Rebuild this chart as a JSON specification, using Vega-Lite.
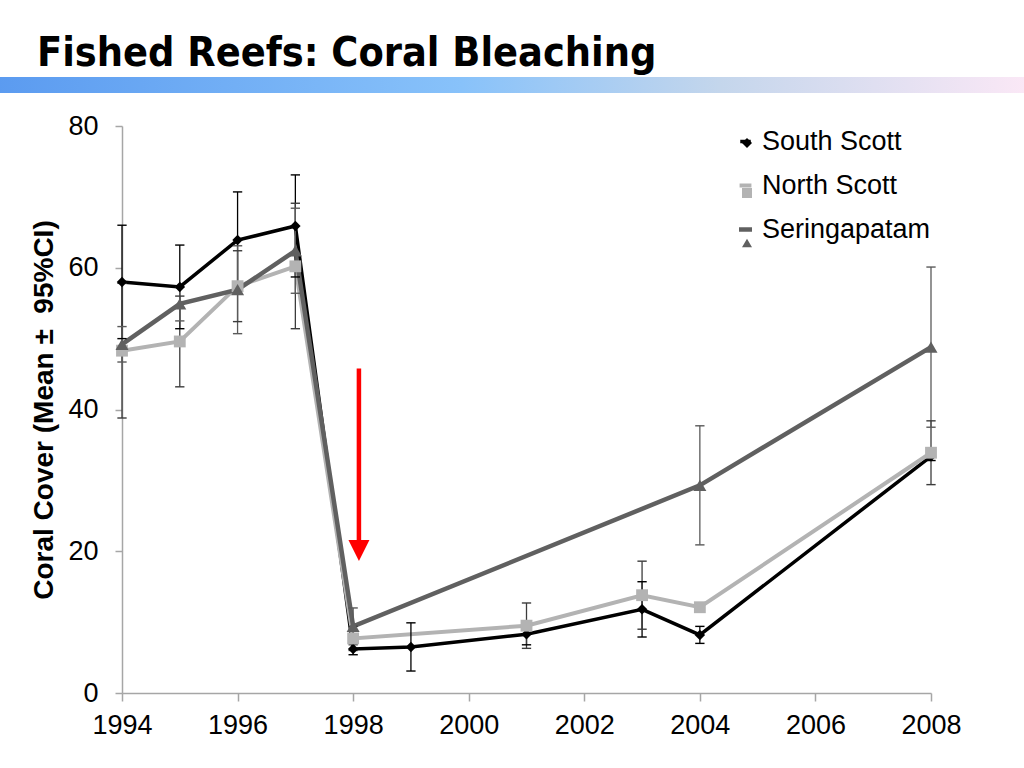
{
  "$schema": "https://vega.github.io/schema/vega-lite/v6.json",
  "width": 809,
  "height": 567,
  "autosize": {"type": "none"},
  "padding": {"left": 122, "top": 126, "right": 93, "bottom": 75},
  "background": "white",
  "config": {"view": {"stroke": null}, "font": "Liberation Sans"},
  "title": {
    "text": "Fished Reefs: Coral Bleaching",
    "anchor": "start",
    "frame": "group",
    "font": "Liberation Sans Narrow, DejaVu Sans Condensed, Lato",
    "fontWeight": "bold",
    "fontSize": 41,
    "color": "#000000",
    "baseline": "alphabetic",
    "dx": -85,
    "dy": 42,
    "offset": 12
  },
  "datasets": {
    "reefs": [
      {"series": "South Scott", "year": 1994, "mean": 58.0, "lo": 50.0, "hi": 66.0},
      {"series": "South Scott", "year": 1995, "mean": 57.3, "lo": 51.4, "hi": 63.2},
      {"series": "South Scott", "year": 1996, "mean": 63.9, "lo": 57.1, "hi": 70.7},
      {"series": "South Scott", "year": 1997, "mean": 65.9, "lo": 58.7, "hi": 73.1},
      {"series": "South Scott", "year": 1998, "mean": 6.2, "lo": 5.4, "hi": 7.0},
      {"series": "South Scott", "year": 1999, "mean": 6.5, "lo": 3.1, "hi": 9.9},
      {"series": "South Scott", "year": 2001, "mean": 8.3, "lo": 6.8, "hi": 9.8},
      {"series": "South Scott", "year": 2003, "mean": 11.8, "lo": 7.9, "hi": 15.7},
      {"series": "South Scott", "year": 2004, "mean": 8.2, "lo": 7.0, "hi": 9.4},
      {"series": "South Scott", "year": 2008, "mean": 33.4, "lo": 32.8, "hi": 34.0},
      {"series": "North Scott", "year": 1994, "mean": 48.3, "lo": 38.8, "hi": 57.8},
      {"series": "North Scott", "year": 1995, "mean": 49.6, "lo": 43.2, "hi": 56.0},
      {"series": "North Scott", "year": 1996, "mean": 57.4, "lo": 52.4, "hi": 62.4},
      {"series": "North Scott", "year": 1997, "mean": 60.2, "lo": 51.4, "hi": 69.1},
      {"series": "North Scott", "year": 1998, "mean": 7.7, "lo": 6.0, "hi": 9.4},
      {"series": "North Scott", "year": 2001, "mean": 9.5, "lo": 6.3, "hi": 12.7},
      {"series": "North Scott", "year": 2003, "mean": 13.8, "lo": 9.0, "hi": 18.6},
      {"series": "North Scott", "year": 2004, "mean": 12.1, "lo": 11.5, "hi": 12.7},
      {"series": "North Scott", "year": 2008, "mean": 33.9, "lo": 29.4, "hi": 38.4},
      {"series": "Seringapatam", "year": 1994, "mean": 49.2, "lo": 46.7, "hi": 51.7},
      {"series": "Seringapatam", "year": 1995, "mean": 54.9, "lo": 52.5, "hi": 57.3},
      {"series": "Seringapatam", "year": 1996, "mean": 56.9, "lo": 50.7, "hi": 63.1},
      {"series": "Seringapatam", "year": 1997, "mean": 62.4, "lo": 56.4, "hi": 68.4},
      {"series": "Seringapatam", "year": 1998, "mean": 9.4, "lo": 6.8, "hi": 12.0},
      {"series": "Seringapatam", "year": 2004, "mean": 29.3, "lo": 20.9, "hi": 37.7},
      {"series": "Seringapatam", "year": 2008, "mean": 48.8, "lo": 37.5, "hi": 60.1}
    ],
    "arrow": [{"year": 1998.1, "top": 45.8, "base": 21.6, "head": 20.1}],
    "band": [{"x0": 1991.85, "x1": 2009.7, "y0": 84.66, "y1": 86.9}]
  },
  "layer": [
    {
      "data": {"name": "reefs"},
      "mark": {"type": "line"},
      "encoding": {
        "x": {
          "field": "year", "type": "quantitative",
          "scale": {"domain": [1994, 2008], "nice": false, "zero": false},
          "axis": {
            "title": null, "values": [1994, 1996, 1998, 2000, 2002, 2004, 2006, 2008],
            "format": "d", "grid": false, "domainColor": "#a6a6a6", "domainWidth": 1.5,
            "tickColor": "#a6a6a6", "tickWidth": 1.5, "tickSize": 8, "labelFlush": false, "labelOverlap": false,
            "labelFont": "Liberation Sans", "labelFontSize": 27, "labelColor": "#000000", "labelPadding": 11
          }
        },
        "y": {
          "field": "mean", "type": "quantitative",
          "scale": {"domain": [0, 80], "nice": false},
          "axis": {
            "title": "Coral Cover (Mean ±\u00a0 95%CI)", "values": [0, 20, 40, 60, 80],
            "grid": false, "domainColor": "#a6a6a6", "domainWidth": 1.5,
            "tickColor": "#a6a6a6", "tickWidth": 1.5, "tickSize": 7, "labelFlush": false, "labelOverlap": false,
            "labelFont": "Liberation Sans", "labelFontSize": 27, "labelColor": "#000000", "labelPadding": 17,
            "titleFont": "Liberation Sans", "titleFontSize": 28, "titleFontWeight": "bold", "titleColor": "#000000", "titlePadding": 9
          }
        },
        "color": {
          "field": "series", "type": "nominal",
          "scale": {"domain": ["South Scott", "North Scott", "Seringapatam"], "range": ["#000000", "#b3b3b3", "#606060"]},
          "legend": {
            "orient": "none", "legendX": 610, "legendY": 2, "title": null, "padding": 0,
            "labelFont": "Liberation Sans", "labelFontSize": 27, "labelColor": "#000000", "labelLimit": 400,
            "symbolType": "stroke", "symbolSize": 784, "symbolStrokeWidth": 3.5, "rowPadding": 16, "labelOffset": 3
          }
        },
        "strokeWidth": {"field": "series", "type": "nominal", "scale": {"domain": ["South Scott", "North Scott", "Seringapatam"], "range": [3.5, 4.5, 3.5]}, "legend": null}
      }
    },
    {
      "data": {"name": "band"},
      "mark": {
        "type": "rect",
        "clip": false,
        "fill": {
          "gradient": "linear",
          "x1": 0, "x2": 1, "y1": 0, "y2": 0,
          "stops": [
            {"offset": 0, "color": "#5b9bf0"},
            {"offset": 0.45, "color": "#88c2fa"},
            {"offset": 0.7, "color": "#c4d6ec"},
            {"offset": 1, "color": "#fbe8f6"}
          ]
        }
      },
      "encoding": {
        "x": {"field": "x0", "type": "quantitative"},
        "x2": {"field": "x1"},
        "y": {"field": "y0", "type": "quantitative"},
        "y2": {"field": "y1"}
      }
    },
    {
      "data": {"name": "reefs"},
      "mark": {"type": "rule"},
      "encoding": {
        "x": {"field": "year", "type": "quantitative"},
        "y": {"field": "lo", "type": "quantitative"},
        "y2": {"field": "hi"},
        "stroke": {"field": "series", "type": "nominal", "scale": {"domain": ["South Scott", "North Scott", "Seringapatam"], "range": ["#000000", "#3c3c3c", "#5a5a5a"]}, "legend": null},
        "strokeWidth": {"value": 1.3}
      }
    },
    {
      "data": {"name": "reefs"},
      "mark": {"type": "tick", "orient": "horizontal", "size": 8, "thickness": 0.1, "fillOpacity": 0, "strokeWidth": 1.3},
      "encoding": {
        "x": {"field": "year", "type": "quantitative"},
        "y": {"field": "lo", "type": "quantitative"},
        "stroke": {"field": "series", "type": "nominal", "legend": null}
      }
    },
    {
      "data": {"name": "reefs"},
      "mark": {"type": "tick", "orient": "horizontal", "size": 8, "thickness": 0.1, "fillOpacity": 0, "strokeWidth": 1.3},
      "encoding": {
        "x": {"field": "year", "type": "quantitative"},
        "y": {"field": "hi", "type": "quantitative"},
        "stroke": {"field": "series", "type": "nominal", "legend": null}
      }
    },
    {
      "data": {"name": "reefs"},
      "mark": {"type": "point", "filled": true, "opacity": 1},
      "encoding": {
        "x": {"field": "year", "type": "quantitative"},
        "y": {"field": "mean", "type": "quantitative"},
        "fill": {
          "field": "series", "type": "nominal", "sort": {"field": "mean", "op": "min", "order": "ascending"},
          "scale": {"range": ["#000000", "#b3b3b3", "#606060"]},
          "legend": {
            "orient": "none", "legendX": 619, "legendY": 11, "title": null, "padding": 0,
            "labelFont": "Liberation Sans", "labelFontSize": 1, "labelOpacity": 0, "labelOffset": 0,
            "symbolSize": 100, "rowPadding": 34
          }
        },
        "shape": {
          "field": "series", "type": "nominal", "sort": {"field": "mean", "op": "min", "order": "ascending"},
          "scale": {"range": ["diamond", "square", "triangle-up"]}
        },
        "size": {"field": "series", "type": "nominal", "scale": {"domain": ["South Scott", "North Scott", "Seringapatam"], "range": [110, 170, 150]}, "legend": null}
      }
    },
    {
      "data": {"name": "arrow"},
      "mark": {"type": "rule", "color": "#ff0000", "strokeWidth": 4.5},
      "encoding": {
        "x": {"field": "year", "type": "quantitative"},
        "y": {"field": "top", "type": "quantitative"},
        "y2": {"field": "base"}
      }
    },
    {
      "data": {"name": "arrow"},
      "mark": {"type": "point", "shape": "M-1,-1L1,-1L0,1Z", "filled": true, "color": "#ff0000", "opacity": 1, "size": 441},
      "encoding": {
        "x": {"field": "year", "type": "quantitative"},
        "y": {"field": "head", "type": "quantitative"}
      }
    }
  ]
}
